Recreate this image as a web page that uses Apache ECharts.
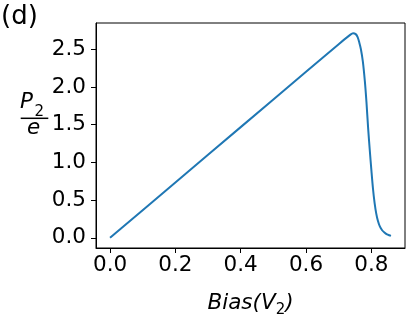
<!DOCTYPE html>
<html>
<head>
<meta charset="utf-8">
<script src="https://cdn.jsdelivr.net/npm/echarts@6/dist/echarts.min.js"></script>
<style>
	html, body { margin: 0; padding: 0; background: #ffffff; }
	#chart { width: 415px; height: 323px; }
</style>
</head>
<body>
<div id="chart"></div>
<script>
// values
let biasArr = [0, 0.2, 0.4, 0.6, 0.7, 0.735, 0.744, 0.752, 0.758, 0.763, 0.768, 0.774, 0.78, 0.785, 0.79, 0.795, 0.8, 0.805, 0.81, 0.815, 0.82, 0.826, 0.833, 0.84, 0.848, 0.855, 0.86];
let p2Arr = [0, 0.733, 1.467, 2.2, 2.567, 2.69, 2.712, 2.7, 2.66, 2.59, 2.5, 2.336, 2.08, 1.8, 1.46, 1.17, 0.9, 0.65, 0.46, 0.32, 0.225, 0.15, 0.1, 0.07, 0.045, 0.033, 0.025];
let xTicks = [0, 0.2, 0.4, 0.6, 0.8];
let yTicks = [0, 0.5, 1.0, 1.5, 2.0, 2.5];

let font = "DejaVu Sans";
let fs = 21.5;
let lineData = [];
for (let i = 0; i < biasArr.length; i++) {
	lineData.push([biasArr[i], p2Arr[i]]);
}

let option = {
	animation: false,
	backgroundColor: "#ffffff",
	grid: {
		left: 96,
		right: 10,
		top: 23,
		bottom: 70,
		show: true,
		borderColor: "#000000",
		borderWidth: 1
	},
	xAxis: {
		type: "value",
		min: -0.043,
		max: 0.903,
		name: "{it|Bias(V}{sub|2}{it|)}",
		nameLocation: "middle",
		nameGap: 40,
		nameTextStyle: {
			rich: {
				it: { fontFamily: font, fontStyle: "italic", fontSize: fs, color: "#000", lineHeight: 26, verticalAlign: "bottom" },
				sub: { fontFamily: font, fontStyle: "normal", fontSize: 15, color: "#000", lineHeight: 26, verticalAlign: "bottom", padding: [0, 0, -4, 0] }
			}
		},
		splitLine: { show: false },
		axisLine: { show: true, onZero: false, lineStyle: { color: "#000", width: 1 } },
		axisTick: { show: true, inside: false, length: 5, lineStyle: { color: "#000", width: 1 }, customValues: xTicks },
		axisLabel: {
			color: "#000",
			fontFamily: font,
			fontSize: fs,
			margin: 6,
			customValues: xTicks,
			formatter: function(v) { return v.toFixed(1); }
		}
	},
	yAxis: {
		type: "value",
		min: -0.1356,
		max: 2.8476,
		splitLine: { show: false },
		axisLine: { show: true, onZero: false, lineStyle: { color: "#000", width: 1 } },
		axisTick: { show: true, inside: false, length: 5, lineStyle: { color: "#000", width: 1 }, customValues: yTicks },
		axisLabel: {
			color: "#000",
			fontFamily: font,
			fontSize: fs,
			margin: 10,
			customValues: yTicks,
			formatter: function(v) { return v.toFixed(1); }
		}
	},
	graphic: [
		{ type: "text", left: 1, top: 4, style: { text: "(d)", fontFamily: font, fontSize: 26, fill: "#000" } },
		{ type: "text", x: 20, y: 102, style: { text: "P", fontFamily: font, fontStyle: "italic", fontSize: fs, fill: "#000", verticalAlign: "middle", align: "left" } },
		{ type: "text", x: 34.5, y: 112, style: { text: "2", fontFamily: font, fontSize: 15, fill: "#000", verticalAlign: "middle", align: "left" } },
		{ type: "line", shape: { x1: 20.7, y1: 118.3, x2: 48.3, y2: 118.3 }, style: { stroke: "#000", lineWidth: 1.5 } },
		{ type: "text", x: 33.5, y: 128, style: { text: "e", fontFamily: font, fontStyle: "italic", fontSize: fs, fill: "#000", verticalAlign: "middle", align: "center" } }
	],
	series: [
		{
			type: "line",
			data: lineData,
			showSymbol: false,
			smooth: 0.3,
			lineStyle: { color: "#1f77b4", width: 2 }
		}
	]
};

let chart = echarts.init(document.getElementById("chart"), null, { renderer: "canvas" });
chart.setOption(option);
</script>
</body>
</html>
